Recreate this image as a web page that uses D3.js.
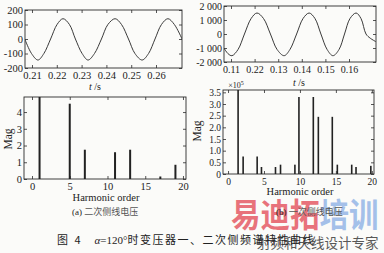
<!DOCTYPE html>
<html>
<head>
<meta charset="utf-8">
<script src="https://cdn.jsdelivr.net/npm/d3@7"></script>
<style>
  body { margin: 0; background: #fbfbf9; }
  svg { display: block; }
  text { font-family: "Liberation Serif", "DejaVu Serif", serif; fill: #222; }
  .cjk { font-family: "Noto Sans CJK SC", sans-serif; }
</style>
</head>
<body>
<script>
// (a) secondary line voltage, time in s, value in V
var waveA_t = [0.2072, 0.2098, 0.2124, 0.2148, 0.2175, 0.2201, 0.2225, 0.2251, 0.2275,
  0.2302, 0.2326, 0.2352, 0.2380, 0.2406, 0.2435, 0.2461, 0.2489, 0.2515, 0.2544,
  0.2570, 0.2596, 0.2622, 0.2648, 0.2674, 0.2705];
var waveA_v = [-5, -100, -145, -100, 0, 100, 140, 100, 0,
  -100, -145, -100, 0, 100, 140, 100, 0, -100, -145,
  -100, 0, 100, 140, 100, 0];

// (b) primary line voltage
var waveB_t = [0.1070, 0.1087, 0.1104, 0.1130, 0.1157, 0.1185, 0.1210, 0.1238, 0.1267,
  0.1295, 0.1325, 0.1350, 0.1378, 0.1405, 0.1431, 0.1456, 0.1481, 0.1507, 0.1532,
  0.1558, 0.1581, 0.1604, 0.1630, 0.1651, 0.1672, 0.1690, 0.1714];
var waveB_v = [-1000, -1400, -1550, -1100, 0, 1100, 1500, 1100, 0,
  -1100, -1550, -1100, 0, 1100, 1500, 1100, 0, -1100, -1550,
  -1100, 0, 1100, 1500, 1100, 0, -300, -550];

// spectra
var harmA = [1, 5, 7, 11, 13, 17, 19];
var magA = [140, 4.5, 1.75, 1.6, 1.75, 0.15, 0.85];

var harmB = [1.4, 2.1, 4.05, 4.65, 6.6, 7.3, 9.3, 9.86, 11.86, 12.56, 14.5, 15.2, 17.2, 17.8, 19.86];
var magB = [40, 0.75, 0.75, 0.3, 0.3, 0.4, 0.4, 3.3, 3.3, 2.45, 2.45, 0.4, 0.4, 0.3, 0.35];

var ticksTA = [0.21, 0.22, 0.23, 0.24, 0.25, 0.26];
var ticksTB = [0.11, 0.12, 0.13, 0.14, 0.15, 0.16];
var labelsTB = ["0.11", "0.22", "0.13", "0.14", "0.15", "0.16"];
var ticksVA = [-200, -100, 0, 100, 200];
var ticksVB = [-2000, -1000, 0, 1000, 2000];
var labelsVB = ["-2 000", "-1 000", "0", "1 000", "2 000"];
var ticksH = [0, 5, 10, 15, 20];
var ticksMA = [0, 1, 2, 3, 4];
var ticksMB = [0, 0.5, 1, 1.5, 2, 2.5, 3, 3.5];
var labelsMB = ["0", "0.5", "1.0", "1.5", "2.0", "2.5", "3.0", "3.5"];

var width = 384, height = 253;
var ink = "#2a2a2a";

var svg = d3.select("body").append("svg")
  .attr("width", width)
  .attr("height", height);

var clipId = 0;

function panel(box, xDomain, yDomain, xt, xl, yt, yl, fs) {
  var x = d3.scaleLinear().domain(xDomain).range([box.x0, box.x1]);
  var y = d3.scaleLinear().domain(yDomain).range([box.y1, box.y0]);
  var g = svg.append("g");

  var id = "clip" + (clipId++);
  svg.append("clipPath").attr("id", id).append("rect")
    .attr("x", box.x0).attr("y", box.y0)
    .attr("width", box.x1 - box.x0).attr("height", box.y1 - box.y0);

  var ax = function(axis, sel) {
    sel.call(axis);
    sel.select(".domain").remove();
    sel.selectAll("line").attr("stroke", ink).attr("stroke-width", 0.8);
    sel.selectAll("text").attr("font-size", fs).attr("font-family", "Liberation Serif").attr("fill", "#222");
  };

  g.append("g").attr("transform", "translate(0," + box.y1 + ")")
    .call(function(s) {
      ax(d3.axisBottom(x).tickValues(xt).tickSize(-3).tickPadding(4)
        .tickFormat(function(d, i) { return xl[i]; }), s);
    });
  g.append("g").attr("transform", "translate(0," + box.y0 + ")")
    .call(function(s) {
      ax(d3.axisTop(x).tickValues(xt).tickSize(-3).tickFormat(""), s);
    });
  g.append("g").attr("transform", "translate(" + box.x0 + ",0)")
    .call(function(s) {
      ax(d3.axisLeft(y).tickValues(yt).tickSize(-3).tickPadding(2)
        .tickFormat(function(d, i) { return yl[i]; }), s);
    });
  g.append("g").attr("transform", "translate(" + box.x1 + ",0)")
    .call(function(s) {
      ax(d3.axisRight(y).tickValues(yt).tickSize(-3).tickFormat(""), s);
    });

  g.append("rect")
    .attr("x", box.x0).attr("y", box.y0)
    .attr("width", box.x1 - box.x0).attr("height", box.y1 - box.y0)
    .attr("fill", "none").attr("stroke", ink).attr("stroke-width", 0.9);

  return { x: x, y: y, g: g, clip: "url(#" + id + ")" };
}

function wave(p, ts, vs) {
  var pts = ts.map(function(t, i) { return [t, vs[i]]; });
  p.g.append("path")
    .datum(pts)
    .attr("clip-path", p.clip)
    .attr("fill", "none")
    .attr("stroke", "#3a3a3a")
    .attr("stroke-width", 1)
    .attr("d", d3.line()
      .x(function(d) { return p.x(d[0]); })
      .y(function(d) { return p.y(d[1]); })
      .curve(d3.curveCatmullRom.alpha(0.5)));
}

function bars(p, hs, ms, w) {
  p.g.selectAll(null)
    .data(hs)
    .enter().append("rect")
    .attr("clip-path", p.clip)
    .attr("x", function(d) { return p.x(d) - w / 2; })
    .attr("width", w)
    .attr("y", function(d, i) { return p.y(ms[i]); })
    .attr("height", function(d, i) { return p.y(0) - p.y(ms[i]); })
    .attr("fill", "#222");
}

// top left
var pA = panel({ x0: 25, x1: 182, y0: 10, y1: 68 }, [0.20718, 0.27048], [-200, 200],
  ticksTA, ticksTA.map(String), ticksVA, ticksVA.map(String), 10.5);
wave(pA, waveA_t, waveA_v);

// top right
var pB = panel({ x0: 224, x1: 376, y0: 6, y1: 62 }, [0.10703, 0.17144], [-2000, 2000],
  ticksTB, labelsTB, ticksVB, labelsVB, 10);
wave(pB, waveB_t, waveB_v);

// bottom left
var pC = panel({ x0: 24, x1: 186, y0: 97, y1: 179 }, [-1.06, 20.4], [0, 4.9],
  ticksH, ticksH.map(String), ticksMA, ticksMA.map(String), 10.5);
bars(pC, harmA, magA, 2);

// bottom right
var pD = panel({ x0: 223, x1: 374, y0: 90, y1: 174 }, [-0.7, 20.3], [0, 3.6],
  ticksH, ticksH.map(String), ticksMB, labelsMB, 9.5);
bars(pD, harmB, magB, 1.6);

// axis titles
function tlabel(xp, yp) {
  var t = svg.append("text").attr("x", xp).attr("y", yp)
    .attr("text-anchor", "middle").attr("font-size", 10);
  t.append("tspan").attr("font-style", "italic").text("t");
  t.append("tspan").text(" /s");
}
tlabel(95, 90);
tlabel(299, 86);

svg.append("text").attr("x", 236).attr("y", 88).attr("font-size", 8)
  .attr("text-anchor", "middle").text("×10")
  .append("tspan").attr("dy", -3).attr("font-size", 6).text("5");

svg.append("text").attr("transform", "translate(12,139) rotate(-90)")
  .attr("text-anchor", "middle").attr("font-size", 11.5).text("Mag");
svg.append("text").attr("transform", "translate(201,131) rotate(-90)")
  .attr("text-anchor", "middle").attr("font-size", 11.5).text("Mag");

svg.append("text").attr("x", 106).attr("y", 201).attr("text-anchor", "middle")
  .attr("font-size", 10.5).text("Harmonic order");
svg.append("text").attr("x", 300).attr("y", 195).attr("text-anchor", "middle")
  .attr("font-size", 10.5).text("Harmonic order");

// watermark
var wm = svg.append("text")
  .attr("transform", "translate(231,227) scale(1,1.1)")
  .attr("class", "cjk").attr("font-size", 29.5).attr("font-weight", "bold")
  .attr("opacity", 0.8);
wm.append("tspan").attr("fill", "#e4505c").text("易迪拓");
wm.append("tspan").attr("fill", "#8fb2e6").text("培训");

// captions
svg.append("text").attr("x", 72).attr("y", 215).attr("font-size", 9).text("(a) ")
  .append("tspan").attr("class", "cjk").attr("fill", "#555").text("二次侧线电压");
svg.append("text").attr("x", 276).attr("y", 215).attr("font-size", 9).text("(b) ")
  .append("tspan").attr("class", "cjk").attr("fill", "#555").text("一次侧线电压");

var cap = svg.append("text").attr("x", 57).attr("y", 244).attr("font-size", 11);
cap.append("tspan").attr("class", "cjk").attr("letter-spacing", 2).text("图 4");
cap.append("tspan").attr("dx", 12).attr("font-style", "italic").text("α");
cap.append("tspan").text("=120°");
cap.append("tspan").attr("class", "cjk").attr("letter-spacing", 1.5)
  .text("时变压器一、二次侧频谱特性曲线");

svg.append("text").attr("x", 257).attr("y", 248).attr("class", "cjk")
  .attr("font-size", 13.5).attr("fill", "#777").attr("opacity", 0.75)
  .text("射频和天线设计专家");
</script>
</body>
</html>
